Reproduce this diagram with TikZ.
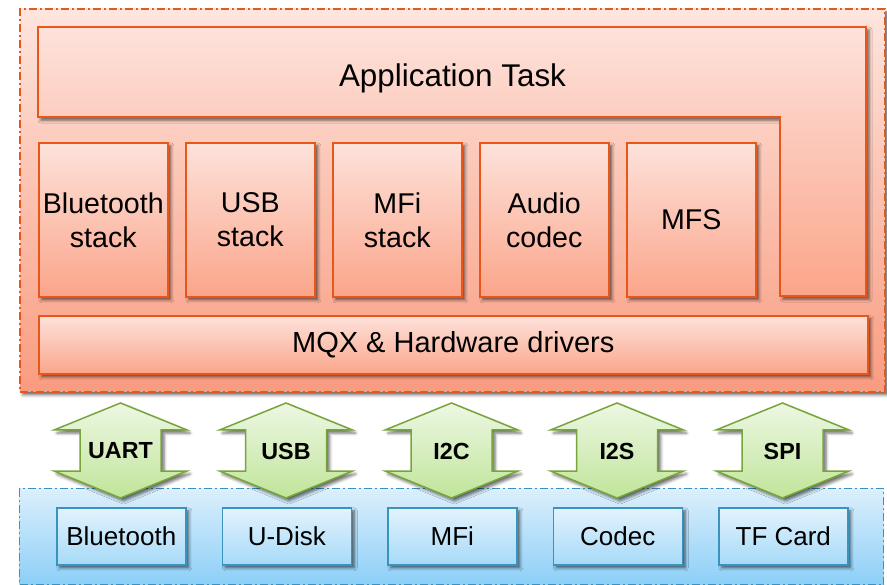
\documentclass[tikz,border=0pt]{standalone}
\usepackage{fontspec}
\setmainfont{Liberation Sans}
\usetikzlibrary{shadows.blur}
\definecolor{obord}{HTML}{E8561A}
\definecolor{otop}{HTML}{FDE2DB}
\definecolor{obot}{HTML}{FBA58A}
\definecolor{octop}{HTML}{FDE5DE}
\definecolor{ocbot}{HTML}{F99C80}
\definecolor{bbord}{HTML}{3A93BD}
\definecolor{bctop}{HTML}{DCEFFC}
\definecolor{bcbot}{HTML}{8CCFF7}
\definecolor{btop}{HTML}{E3F3FD}
\definecolor{bbot}{HTML}{A6DAF8}
\definecolor{gbord}{HTML}{78A53A}
\definecolor{gtop}{HTML}{EDF7E3}
\definecolor{gbot}{HTML}{C0E59A}
\begin{document}
\begin{tikzpicture}[x=1pt,y=-1pt,
  shad/.style={blur shadow={shadow xshift=3pt, shadow yshift=-3pt, shadow blur radius=3pt, shadow opacity=60}},
  obox/.style={draw=obord, line width=1.6pt, top color=otop, bottom color=obot, shad},
  onode/.style={obox, anchor=north west, inner sep=0pt, align=center},
  ocont/.style={draw=obord, line width=1.6pt, top color=octop, bottom color=ocbot,
     dash pattern=on 8pt off 3pt on 2pt off 3pt, shad, anchor=north west, inner sep=0pt},
  bcont/.style={draw=bbord, line width=1.3pt, top color=bctop, bottom color=bcbot,
     dash pattern=on 8pt off 3pt on 2pt off 3pt, anchor=north west, inner sep=0pt},
  bnode/.style={draw=bbord, line width=1.6pt, top color=btop, bottom color=bbot, shad,
     anchor=north west, inner sep=0pt, minimum width=129pt, minimum height=57pt,
     font=\fontsize{26}{30}\selectfont},
  garrow/.style={draw=gbord, line width=1.5pt, top color=gtop, bottom color=gbot, line join=miter, shad},
  glabel/.style={font=\fontsize{23.3}{27}\selectfont\bfseries, inner sep=0pt},
  stk/.style={onode, minimum width=129pt, minimum height=154pt, font=\fontsize{28.6}{34}\selectfont}
]
\useasboundingbox (0,0) rectangle (887,585);
% containers
\node[ocont, minimum width=865pt, minimum height=383pt] (top) at (19,8) {};
\node[bcont, minimum width=864pt, minimum height=96pt] (bottom) at (19,488) {};
% application task L-shape
\draw[obox] (38,27) -- (866,27) -- (866,296) -- (780,296) -- (780,117) -- (38,117) -- cycle;
\node[font=\fontsize{31.4}{36}\selectfont, inner sep=0pt, anchor=base] (app) at (452.5,87) {Application Task};
% stacks
\node[stk] (bts) at (38,142) {Bluetooth\\stack};
\node[stk] (usbs) at (185,142) {USB\\stack};
\node[stk] (mfis) at (332,142) {MFi\\stack};
\node[stk] (aud) at (479,142) {Audio\\codec};
\node[stk] (mfs) at (626,142) {MFS};
% MQX
\node[onode, minimum width=829pt, minimum height=58pt, font=\fontsize{29}{34}\selectfont] (mqx) at (38,315) {MQX \& Hardware drivers};
% devices
\node[bnode] (dbt) at (56,507) {Bluetooth};
\node[bnode] (dud) at (221.5,507) {U-Disk};
\node[bnode] (dmfi) at (387,507) {MFi};
\node[bnode] (dcod) at (552.5,507) {Codec};
\node[bnode] (dtf) at (718,507) {TF Card};
% arrows
\foreach \cx/\lab/\nm in {120.5/UART/a1, 286/USB/a2, 451.5/I2C/a3, 617/I2S/a4, 782.5/SPI/a5}{
  \draw[garrow] (\cx,403) -- ++(66.5,27) -- ++(-26,0) -- ++(0,41) -- ++(26,0) -- (\cx,498)
     -- ++(-66.5,-27) -- ++(26,0) -- ++(0,-41) -- ++(-26,0) -- cycle;
  \node[glabel] (\nm) at (\cx,451) {\lab};
}
\end{tikzpicture}
\end{document}
